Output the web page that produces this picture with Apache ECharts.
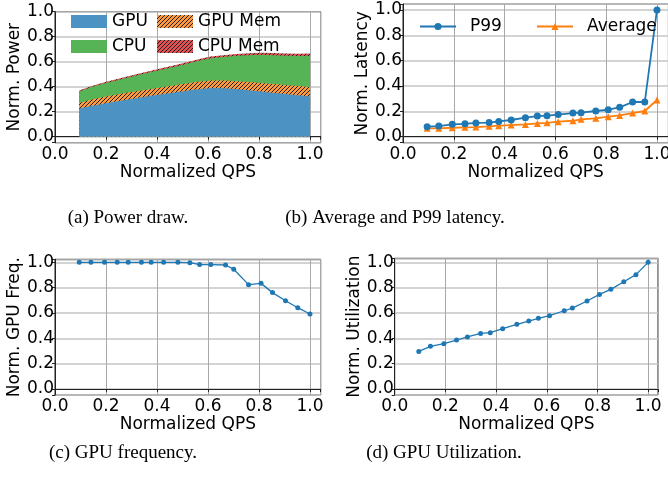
<!DOCTYPE html>
<html>
<head>
<meta charset="utf-8">
<script src="https://cdn.jsdelivr.net/npm/echarts@6/dist/echarts.min.js"></script>
<style>
html,body{margin:0;padding:0;background:#fff;}
#c{width:668px;height:479px;}
</style>
</head>
<body>
<div id="c"></div>
<script>
// ---- data ----
const qps = [0.095, 0.141, 0.194, 0.244, 0.287, 0.339, 0.377, 0.426, 0.482, 0.529, 0.567, 0.611, 0.669, 0.701, 0.759, 0.808, 0.853, 0.904, 0.952, 1.0];
const gpuPower = [0.225, 0.245, 0.265, 0.283, 0.298, 0.315, 0.327, 0.342, 0.358, 0.372, 0.382, 0.389, 0.388, 0.383, 0.372, 0.362, 0.352, 0.342, 0.332, 0.322];
const gpuMemPower = [0.045, 0.05, 0.055, 0.055, 0.055, 0.055, 0.055, 0.055, 0.057, 0.058, 0.059, 0.06, 0.062, 0.063, 0.065, 0.067, 0.069, 0.071, 0.073, 0.075];
const cpuPower = [0.092, 0.1, 0.107, 0.114, 0.121, 0.13, 0.135, 0.143, 0.151, 0.16, 0.169, 0.179, 0.19, 0.199, 0.215, 0.226, 0.231, 0.235, 0.24, 0.248];
const cpuMemPower = [0.008, 0.008, 0.009, 0.009, 0.01, 0.01, 0.01, 0.011, 0.011, 0.012, 0.012, 0.013, 0.014, 0.014, 0.015, 0.016, 0.017, 0.018, 0.019, 0.02];
const p99Latency = [0.079, 0.084, 0.098, 0.102, 0.109, 0.112, 0.121, 0.132, 0.15, 0.163, 0.166, 0.175, 0.187, 0.19, 0.203, 0.213, 0.232, 0.274, 0.274, 1.0];
const avgLatency = [0.066, 0.066, 0.071, 0.074, 0.076, 0.082, 0.087, 0.092, 0.097, 0.105, 0.11, 0.119, 0.126, 0.137, 0.145, 0.158, 0.168, 0.187, 0.203, 0.29];
const gpuFreq = [1.0, 1.0, 1.0, 1.0, 1.0, 1.0, 1.0, 1.0, 1.0, 0.997, 0.982, 0.982, 0.979, 0.945, 0.824, 0.834, 0.761, 0.697, 0.642, 0.592];
const gpuUtil = [0.297, 0.337, 0.358, 0.387, 0.411, 0.439, 0.445, 0.476, 0.511, 0.537, 0.558, 0.579, 0.618, 0.639, 0.695, 0.747, 0.787, 0.847, 0.903, 1.0];
const tickLabels = ['0.0', '0.2', '0.4', '0.6', '0.8', '1.0'];
const captions = ['(a) Power draw.', '(b) Average and P99 latency.', '(c) GPU frequency.', '(d) GPU Utilization.'];

const pairs = ys => qps.map((x, i) => [x, ys[i]]);
// cumulative tops of the stacked power areas (drawn top layer first, each filled to 0)
const cum1 = gpuPower.slice();
const cum2 = cum1.map((v, i) => v + gpuMemPower[i]);
const cum3 = cum2.map((v, i) => v + cpuPower[i]);
const cum4 = cum3.map((v, i) => v + cpuMemPower[i]);

function hatch(bg) {
  const c = document.createElement('canvas');
  c.width = 4; c.height = 4;
  const g = c.getContext('2d');
  g.fillStyle = bg; g.fillRect(0, 0, 4, 4);
  g.strokeStyle = '#222'; g.lineWidth = 1;
  g.beginPath();
  g.moveTo(-1, 5); g.lineTo(5, -1);
  g.moveTo(-1, 1); g.lineTo(1, -1);
  g.moveTo(3, 5); g.lineTo(5, 3);
  g.stroke();
  return { image: c, repeat: 'repeat' };
}
const C_GPU = '#4c92c3', C_CPU = '#56b356';
const P_GPUMEM = hatch('#ff993e'), P_CPUMEM = hatch('#de5253');

const FONT = 'DejaVu Sans';
function fmt(v) {
  const k = v / 0.2;
  if (Math.abs(k - Math.round(k)) > 1e-6) return '';
  const i = Math.round(k);
  return tickLabels[i] !== undefined ? tickLabels[i] : '';
}
function xAxis(idx, max) {
  return {
    type: 'value', gridIndex: idx, min: 0, max: max, splitNumber: 5,
    name: 'Normalized QPS', nameLocation: 'middle', nameGap: 20,
    nameTextStyle: { fontFamily: FONT, fontSize: 17, color: '#000' },
    axisLine: { show: true, lineStyle: { color: '#222', width: 1 } },
    axisTick: { show: true, length: 3, lineStyle: { color: '#222' } },
    axisLabel: { formatter: fmt, fontFamily: FONT, fontSize: 17, color: '#000', margin: 3 },
    splitLine: { show: true, lineStyle: { color: '#a8a8a8', width: 1 } }
  };
}
function yAxis(idx, min, max, name, gap) {
  return {
    type: 'value', gridIndex: idx, min: min, max: max, splitNumber: 5,
    name: name, nameLocation: 'middle', nameGap: gap,
    nameTextStyle: { fontFamily: FONT, fontSize: 17, color: '#000' },
    axisLine: { show: true, lineStyle: { color: '#222', width: 1 } },
    axisTick: { show: true, length: 3, lineStyle: { color: '#222' } },
    axisLabel: { formatter: fmt, fontFamily: FONT, fontSize: 17, color: '#000', margin: 1 },
    splitLine: { show: true, lineStyle: { color: '#c4c4c4', width: 1.5 } }
  };
}
function area(name, ys, color, z) {
  return {
    name: name, type: 'line', xAxisIndex: 0, yAxisIndex: 0,
    data: pairs(ys), symbol: 'none', showSymbol: false, smooth: false,
    lineStyle: { width: 0 }, areaStyle: { color: color, opacity: 1, origin: 0 },
    itemStyle: { color: color }, emphasis: { disabled: true }, z: z
  };
}
function legendOne(name, left, top, color) {
  return {
    left: left, top: top, padding: 0, orient: 'horizontal', itemWidth: 36, itemHeight: 13,
    textStyle: { fontFamily: FONT, fontSize: 17, color: '#000' },
    data: [{ name: name, icon: 'rect', itemStyle: { color: color, borderWidth: 0 } }],
    selectedMode: false
  };
}
function legendLine(name, left, top) {
  return {
    left: left, top: top, padding: 0, orient: 'horizontal', itemWidth: 36, itemHeight: 9,
    textStyle: { fontFamily: FONT, fontSize: 17, color: '#000', padding: [0, 0, 0, 9] },
    data: [name], selectedMode: false
  };
}
function caption(text, x, y) {
  return { type: 'text', x: x, y: y, style: { text: text, font: '19px "Liberation Serif"', fill: '#000', align: 'center', verticalAlign: 'middle' } };
}
function grid(left, top, width, height) {
  return { left: left, top: top, width: width, height: height, show: true, borderColor: '#222', borderWidth: 1, containLabel: false, outerBoundsMode: 'none' };
}

const chart = echarts.init(document.getElementById('c'), null, { renderer: 'canvas' });
chart.setOption({
  animation: false,
  backgroundColor: '#fff',
  grid: [
    grid(55, 11.7, 265.7, 131),
    grid(403, 4, 265.4, 138.7),
    grid(55, 259.3, 265.7, 135.7),
    grid(394.7, 258.3, 263.3, 136.7)
  ],
  xAxis: [xAxis(0, 1.042), xAxis(1, 1.045), xAxis(2, 1.042), xAxis(3, 1.039)],
  yAxis: [
    yAxis(0, -0.048, 1.0, 'Norm. Power', 27),
    yAxis(1, -0.047, 1.047, 'Norm. Latency', 25),
    yAxis(2, -0.047, 1.024, 'Norm. GPU Freq.', 24),
    yAxis(3, -0.047, 1.032, 'Norm. Utilization', 30)
  ],
  legend: [
    legendOne('GPU', 71, 13, C_GPU),
    legendOne('CPU', 71, 38, C_CPU),
    legendOne('GPU Mem', 157, 13, P_GPUMEM),
    legendOne('CPU Mem', 157, 38, P_CPUMEM),
    legendLine('P99', 419, 18),
    legendLine('Average', 536, 18)
  ],
  series: [
    area('CPU Mem', cum4, P_CPUMEM, 1),
    area('CPU', cum3, C_CPU, 2),
    area('GPU Mem', cum2, P_GPUMEM, 3),
    area('GPU', cum1, C_GPU, 4),
    {
      name: 'P99', type: 'line', xAxisIndex: 1, yAxisIndex: 1, data: pairs(p99Latency),
      symbol: 'circle', symbolSize: 7, showSymbol: true,
      lineStyle: { color: '#1f77b4', width: 1.8 }, itemStyle: { color: '#1f77b4' }, z: 3
    },
    {
      name: 'Average', type: 'line', xAxisIndex: 1, yAxisIndex: 1, data: pairs(avgLatency),
      symbol: 'triangle', symbolSize: 7, showSymbol: true,
      lineStyle: { color: '#ff7f0e', width: 1.8 }, itemStyle: { color: '#ff7f0e' }, z: 2
    },
    {
      name: 'freq', type: 'line', xAxisIndex: 2, yAxisIndex: 2, data: pairs(gpuFreq),
      symbol: 'circle', symbolSize: 5, showSymbol: true,
      lineStyle: { color: '#1f77b4', width: 1.3 }, itemStyle: { color: '#1f77b4' }
    },
    {
      name: 'util', type: 'line', xAxisIndex: 3, yAxisIndex: 3, data: pairs(gpuUtil),
      symbol: 'circle', symbolSize: 5, showSymbol: true,
      lineStyle: { color: '#1f77b4', width: 1.3 }, itemStyle: { color: '#1f77b4' }
    }
  ],
  graphic: [
    caption(captions[0], 128, 218),
    caption(captions[1], 395, 218),
    caption(captions[2], 123, 453),
    caption(captions[3], 444, 453)
  ]
});
</script>
</body>
</html>
